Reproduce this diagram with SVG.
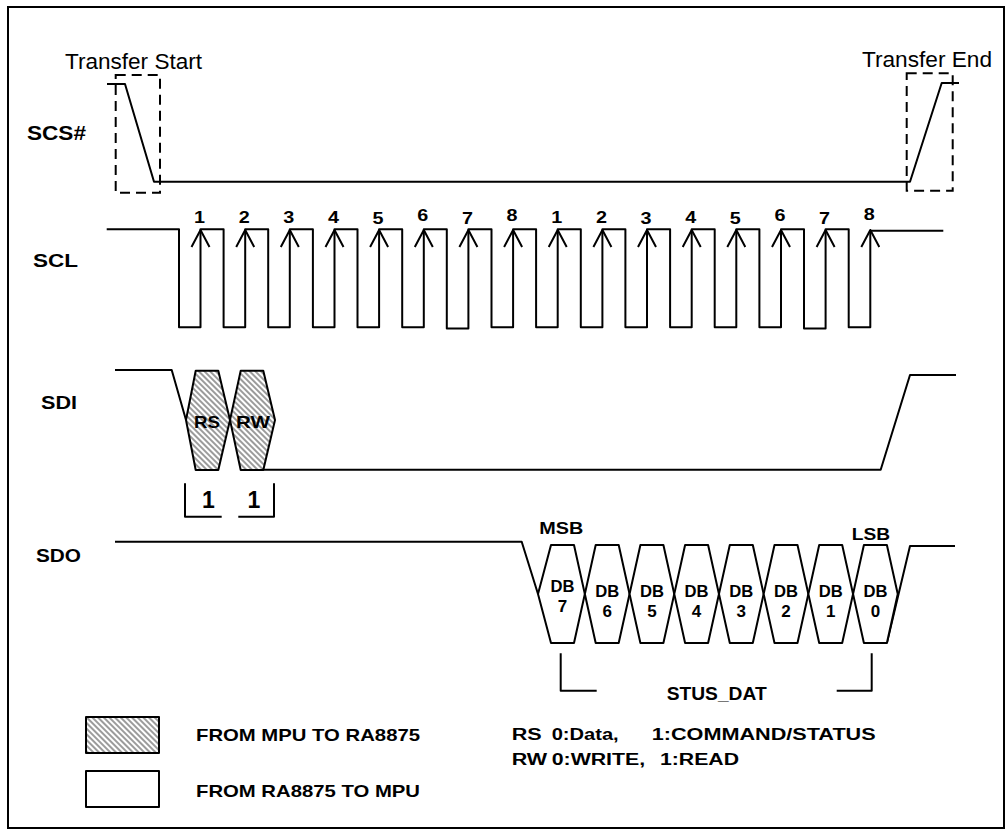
<svg xmlns="http://www.w3.org/2000/svg" width="1006" height="836" viewBox="0 0 1006 836">
<defs>
<pattern id="hatch" patternUnits="userSpaceOnUse" width="4" height="4" patternTransform="rotate(-45)">
<rect width="4" height="4" fill="#fff"/>
<line x1="2" y1="-1" x2="2" y2="5" stroke="#666" stroke-width="1.3"/>
</pattern>
</defs>
<style>
.w{fill:none;stroke:#000;stroke-width:2;stroke-linejoin:round}
.h{fill:url(#hatch);stroke:#000;stroke-width:2;stroke-linejoin:round}
.x{fill:#fff;stroke:#000;stroke-width:2;stroke-linejoin:round}
.d{fill:none;stroke:#000;stroke-width:2;stroke-dasharray:10 6}
.t{font-family:"Liberation Sans",Arial,sans-serif;fill:#000}
.b{font-family:"Liberation Sans",Arial,sans-serif;font-weight:bold;fill:#000}
.c{text-anchor:middle}
.n{font-size:16px}
.db{font-size:17px}
</style>
<rect id="frame" x="8" y="7" width="996" height="821" fill="#fff" stroke="#000" stroke-width="2"/>

<g id="scs">
<text class="b" x="27" y="140" font-size="21" textLength="59" lengthAdjust="spacingAndGlyphs">SCS#</text>
<path class="w" d="M107,84 H125 L154,181.7 H910 L941.7,83 H959"/>
<rect class="d" x="115.7" y="75" width="44.3" height="117.7"/>
<rect class="d" x="906.7" y="73.3" width="46" height="117.4"/>
<text class="t" x="65" y="69" font-size="22" textLength="137" lengthAdjust="spacingAndGlyphs">Transfer Start</text>
<text class="t" x="862" y="67" font-size="22" textLength="130" lengthAdjust="spacingAndGlyphs">Transfer End</text>
</g>

<g id="scl">
<text class="b" x="33" y="267.3" font-size="17.5" textLength="45" lengthAdjust="spacingAndGlyphs">SCL</text>
<path class="w" d="M106.7,229.3 H179 V327.3 H200.5 V229.3 H223.6 V327.3 H245.2 V229.3 H268.2 V327.3 H289.8 V229.3 H312.9 V327.3 H334.5 V229.3 H357.5 V327.3 H379.1 V229.3 H402.2 V327.3 H423.8 V229.3 H446.8 V328.5 H468.4 V229.3 H491.5 V327.3 H513.1 V229.3 H536.1 V327.3 H557.7 V229.3 H580.8 V327.3 H602.4 V229.3 H625.4 V327.3 H647 V229.3 H670.1 V327.3 H691.7 V229.3 H714.7 V327.3 H736.3 V229.3 H759.4 V327.3 H781 V229.3 H804 V328.5 H825.6 V229.3 H848.7 V327.3 H870.3 V230.7 H943.3"/>
<path class="w" d="M191.5,247 L200.5,230 L209.5,247 M236.2,247 L245.2,230 L254.2,247 M280.8,247 L289.8,230 L298.8,247 M325.5,247 L334.5,230 L343.5,247 M370.1,247 L379.1,230 L388.1,247 M414.8,247 L423.8,230 L432.8,247 M459.4,247 L468.4,230 L477.4,247 M504.1,247 L513.1,230 L522.1,247 M548.7,247 L557.7,230 L566.7,247 M593.4,247 L602.4,230 L611.4,247 M638,247 L647,230 L656,247 M682.7,247 L691.7,230 L700.7,247 M727.3,247 L736.3,230 L745.3,247 M772,247 L781,230 L790,247 M816.6,247 L825.6,230 L834.6,247 M861.3,247 L870.3,230 L879.3,247"/>
<g class="b c n">
<text x="199.5" y="222.7" textLength="11" lengthAdjust="spacingAndGlyphs">1</text>
<text x="244.2" y="222.7" textLength="11" lengthAdjust="spacingAndGlyphs">2</text>
<text x="288.8" y="223.3" textLength="11" lengthAdjust="spacingAndGlyphs">3</text>
<text x="333.5" y="223.3" textLength="11" lengthAdjust="spacingAndGlyphs">4</text>
<text x="378.1" y="224" textLength="11" lengthAdjust="spacingAndGlyphs">5</text>
<text x="422.8" y="220.7" textLength="11" lengthAdjust="spacingAndGlyphs">6</text>
<text x="467.4" y="224" textLength="11" lengthAdjust="spacingAndGlyphs">7</text>
<text x="512.1" y="220.7" textLength="11" lengthAdjust="spacingAndGlyphs">8</text>
<text x="556.7" y="222.7" textLength="11" lengthAdjust="spacingAndGlyphs">1</text>
<text x="601.4" y="223.3" textLength="11" lengthAdjust="spacingAndGlyphs">2</text>
<text x="646" y="224" textLength="11" lengthAdjust="spacingAndGlyphs">3</text>
<text x="690.7" y="223.3" textLength="11" lengthAdjust="spacingAndGlyphs">4</text>
<text x="735.3" y="224" textLength="11" lengthAdjust="spacingAndGlyphs">5</text>
<text x="780" y="220.7" textLength="11" lengthAdjust="spacingAndGlyphs">6</text>
<text x="824.6" y="224" textLength="11" lengthAdjust="spacingAndGlyphs">7</text>
<text x="869.3" y="220" textLength="11" lengthAdjust="spacingAndGlyphs">8</text>
</g>
</g>

<g id="sdi">
<text class="b" x="41" y="409" font-size="17.5" textLength="36" lengthAdjust="spacingAndGlyphs">SDI</text>
<path class="w" d="M115,370 H171.7 L186,420"/>
<polygon id="rs" class="h" points="195.7,370.7 218.3,370.7 230,420 218.3,470 195.7,470 186,420"/>
<polygon id="rw" class="h" points="240.7,370.7 263.3,370.7 275,420 263.3,470 240.7,470 230,420"/>
<path class="w" d="M262,469.8 H880.7 L910,375 H956"/>
<text class="b c" x="207" y="428" font-size="17" textLength="26" lengthAdjust="spacingAndGlyphs">RS</text>
<text class="b c" x="253" y="428" font-size="17" textLength="34" lengthAdjust="spacingAndGlyphs">RW</text>
</g>

<g id="sdo">
<text class="b" x="36" y="562" font-size="17.5" textLength="45" lengthAdjust="spacingAndGlyphs">SDO</text>
<path class="w" d="M115,541.7 H521.7 L538,594"/>
<path class="w" d="M886.9,643 L910,546 H955"/>
<polygon class="x" points="551,545 574,545 584.85,594 574,643 551,643 538,594"/>
<polygon class="x" points="595.7,545 618.7,545 629.55,594 618.7,643 595.7,643 584.85,594"/>
<polygon class="x" points="640.4,545 663.4,545 674.25,594 663.4,643 640.4,643 629.55,594"/>
<polygon class="x" points="685.1,545 708.1,545 718.95,594 708.1,643 685.1,643 674.25,594"/>
<polygon class="x" points="729.8,545 752.8,545 763.65,594 752.8,643 729.8,643 718.95,594"/>
<polygon class="x" points="774.5,545 797.5,545 808.35,594 797.5,643 774.5,643 763.65,594"/>
<polygon class="x" points="819.2,545 842.2,545 853.05,594 842.2,643 819.2,643 808.35,594"/>
<polygon class="x" points="863.9,545 886.9,545 897.75,594 886.9,643 863.9,643 853.05,594"/>
<g class="b c db">
<text x="562.5" y="592" textLength="24" lengthAdjust="spacingAndGlyphs">DB</text><text x="562.5" y="612">7</text>
<text x="607.2" y="597" textLength="24" lengthAdjust="spacingAndGlyphs">DB</text><text x="607.2" y="617">6</text>
<text x="651.9" y="597" textLength="24" lengthAdjust="spacingAndGlyphs">DB</text><text x="651.9" y="617">5</text>
<text x="696.6" y="597" textLength="24" lengthAdjust="spacingAndGlyphs">DB</text><text x="696.6" y="617">4</text>
<text x="741.3" y="597" textLength="24" lengthAdjust="spacingAndGlyphs">DB</text><text x="741.3" y="617">3</text>
<text x="786" y="597" textLength="24" lengthAdjust="spacingAndGlyphs">DB</text><text x="786" y="617">2</text>
<text x="830.7" y="597" textLength="24" lengthAdjust="spacingAndGlyphs">DB</text><text x="830.7" y="617">1</text>
<text x="875.4" y="597" textLength="24" lengthAdjust="spacingAndGlyphs">DB</text><text x="875.4" y="617">0</text>
</g>
<text class="b" x="539.3" y="534.3" font-size="17" textLength="44" lengthAdjust="spacingAndGlyphs">MSB</text>
<text class="b" x="851.7" y="540" font-size="17" textLength="38.3" lengthAdjust="spacingAndGlyphs">LSB</text>
<text class="b" x="666.7" y="700" font-size="19" textLength="100" lengthAdjust="spacingAndGlyphs">STUS_DAT</text>
</g>

<g id="connectors">
<path class="w" d="M185,483.3 V516.7 H221.7"/>
<path class="w" d="M238.3,516.7 H274 V483.3"/>
<path class="w" d="M560.7,653.3 V690.7 H596.7"/>
<path class="w" d="M836.7,690.7 H871.7 V653.3"/>
</g>
<g id="bits">
<text class="b c" x="208.3" y="508.3" font-size="23">1</text>
<text class="b c" x="254" y="508.3" font-size="23">1</text>
</g>

<g id="legend">
<rect class="h" x="86" y="717" width="73" height="36"/>
<rect class="x" x="86" y="771" width="73" height="36"/>
<text class="b" x="196" y="741" font-size="17" textLength="224" lengthAdjust="spacingAndGlyphs">FROM MPU TO RA8875</text>
<text class="b" x="196" y="797" font-size="17" textLength="224" lengthAdjust="spacingAndGlyphs">FROM RA8875 TO MPU</text>
<text class="b" x="511.7" y="740" font-size="16" textLength="30" lengthAdjust="spacingAndGlyphs">RS</text>
<text class="b" x="551.7" y="740" font-size="16" textLength="67" lengthAdjust="spacingAndGlyphs">0:Data,</text>
<text class="b" x="651.7" y="740" font-size="16" textLength="224" lengthAdjust="spacingAndGlyphs">1:COMMAND/STATUS</text>
<text class="b" x="511.7" y="765" font-size="16" textLength="35.5" lengthAdjust="spacingAndGlyphs">RW</text>
<text class="b" x="551.7" y="765" font-size="16" textLength="93.5" lengthAdjust="spacingAndGlyphs">0:WRITE,</text>
<text class="b" x="660" y="765" font-size="16" textLength="79" lengthAdjust="spacingAndGlyphs">1:READ</text>
</g>
</svg>
